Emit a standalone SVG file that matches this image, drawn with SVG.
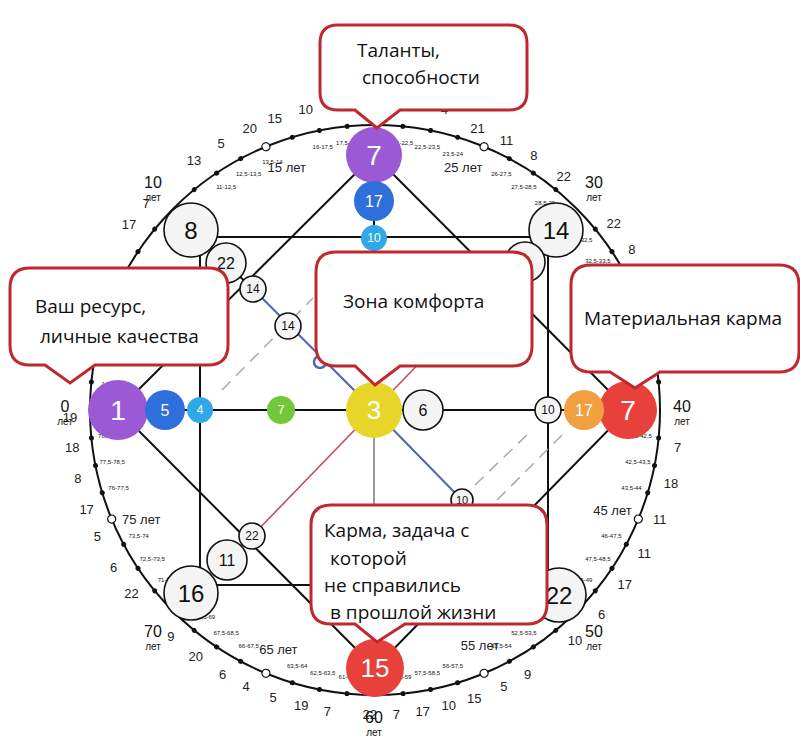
<svg xmlns="http://www.w3.org/2000/svg" width="800" height="746" viewBox="0 0 800 746">
<style>
text{font-family:"Liberation Sans",Arial,sans-serif;fill:#111}
.n{text-anchor:middle;dominant-baseline:central}
.w{fill:#fff}
.wn{fill:#f4f4f4;stroke:#111;stroke-width:1.6}
.cl{fill:#fff;stroke:#c0282f;stroke-width:3}
.ct{font-family:"Open Sans","Noto Sans",sans-serif;font-size:19px}
.r{font-size:6px;text-anchor:middle;dominant-baseline:central}
.o{font-size:13px;text-anchor:middle;dominant-baseline:central;fill:#222}
.ln{stroke:#111;stroke-width:2;fill:none}
</style>
<defs>
<circle id="d" r="2.5" fill="#111"/>
<circle id="h" r="4" fill="#fff" stroke="#111" stroke-width="1.3"/>
</defs>
<g id="ring">
<circle cx="375" cy="410" r="285" fill="none" stroke="#111" stroke-width="2"/>
<g transform="translate(375 410)">
<use href="#d" transform="rotate(5.625) translate(-285 0)"/><use href="#d" transform="rotate(11.25) translate(-285 0)"/><use href="#d" transform="rotate(16.875) translate(-285 0)"/><use href="#h" transform="rotate(22.5) translate(-285 0)"/><use href="#d" transform="rotate(28.125) translate(-285 0)"/><use href="#d" transform="rotate(33.75) translate(-285 0)"/><use href="#d" transform="rotate(39.375) translate(-285 0)"/>
<use href="#d" transform="rotate(50.625) translate(-285 0)"/><use href="#d" transform="rotate(56.25) translate(-285 0)"/><use href="#d" transform="rotate(61.875) translate(-285 0)"/><use href="#h" transform="rotate(67.5) translate(-285 0)"/><use href="#d" transform="rotate(73.125) translate(-285 0)"/><use href="#d" transform="rotate(78.75) translate(-285 0)"/><use href="#d" transform="rotate(84.375) translate(-285 0)"/>
<use href="#d" transform="rotate(95.625) translate(-285 0)"/><use href="#d" transform="rotate(101.25) translate(-285 0)"/><use href="#d" transform="rotate(106.875) translate(-285 0)"/><use href="#h" transform="rotate(112.5) translate(-285 0)"/><use href="#d" transform="rotate(118.125) translate(-285 0)"/><use href="#d" transform="rotate(123.75) translate(-285 0)"/><use href="#d" transform="rotate(129.375) translate(-285 0)"/>
<use href="#d" transform="rotate(140.625) translate(-285 0)"/><use href="#d" transform="rotate(146.25) translate(-285 0)"/><use href="#d" transform="rotate(151.875) translate(-285 0)"/><use href="#h" transform="rotate(157.5) translate(-285 0)"/><use href="#d" transform="rotate(163.125) translate(-285 0)"/><use href="#d" transform="rotate(168.75) translate(-285 0)"/><use href="#d" transform="rotate(174.375) translate(-285 0)"/>
<use href="#d" transform="rotate(185.625) translate(-285 0)"/><use href="#d" transform="rotate(191.25) translate(-285 0)"/><use href="#d" transform="rotate(196.875) translate(-285 0)"/><use href="#h" transform="rotate(202.5) translate(-285 0)"/><use href="#d" transform="rotate(208.125) translate(-285 0)"/><use href="#d" transform="rotate(213.75) translate(-285 0)"/><use href="#d" transform="rotate(219.375) translate(-285 0)"/>
<use href="#d" transform="rotate(230.625) translate(-285 0)"/><use href="#d" transform="rotate(236.25) translate(-285 0)"/><use href="#d" transform="rotate(241.875) translate(-285 0)"/><use href="#h" transform="rotate(247.5) translate(-285 0)"/><use href="#d" transform="rotate(253.125) translate(-285 0)"/><use href="#d" transform="rotate(258.75) translate(-285 0)"/><use href="#d" transform="rotate(264.375) translate(-285 0)"/>
<use href="#d" transform="rotate(275.625) translate(-285 0)"/><use href="#d" transform="rotate(281.25) translate(-285 0)"/><use href="#d" transform="rotate(286.875) translate(-285 0)"/><use href="#h" transform="rotate(292.5) translate(-285 0)"/><use href="#d" transform="rotate(298.125) translate(-285 0)"/><use href="#d" transform="rotate(303.75) translate(-285 0)"/><use href="#d" transform="rotate(309.375) translate(-285 0)"/>
<use href="#d" transform="rotate(320.625) translate(-285 0)"/><use href="#d" transform="rotate(326.25) translate(-285 0)"/><use href="#d" transform="rotate(331.875) translate(-285 0)"/><use href="#h" transform="rotate(337.5) translate(-285 0)"/><use href="#d" transform="rotate(343.125) translate(-285 0)"/><use href="#d" transform="rotate(348.75) translate(-285 0)"/><use href="#d" transform="rotate(354.375) translate(-285 0)"/>
<!-- range labels -->
<text class="r" transform="rotate(5.625) translate(-268 0) rotate(-5.625)">1-2,5</text>
<text class="r" transform="rotate(42.1875) translate(-266 0) rotate(-42.1875)">7,5-8,5</text>
<text class="r" transform="rotate(49.2) translate(-264 0) rotate(-49.2)">8,5-9</text>
<text class="r" transform="rotate(50.625) translate(-262 0) rotate(-50.625)"> </text>
<text class="r" transform="rotate(56.25) translate(-268 0) rotate(-56.25)">11-12,5</text>
<text class="r" transform="rotate(61.875) translate(-268 0) rotate(-61.875)">12,5-13,5</text>
<text class="r" transform="rotate(67.5) translate(-268 0) rotate(-67.5)">13,5-14</text>
<text class="r" transform="rotate(78.75) translate(-268 0) rotate(-78.75)">16-17,5</text>
<text class="r" transform="rotate(84.375) translate(-268 0) rotate(-84.375)">17,5-18,5</text>
<text class="r" transform="rotate(89) translate(-268 0) rotate(-89)">18,5-19</text>
<text class="r" transform="rotate(96) translate(-268 0) rotate(-96)">21-22,5</text>
<text class="r" transform="rotate(101.25) translate(-268 0) rotate(-101.25)">22,5-23,5</text>
<text class="r" transform="rotate(106.875) translate(-268 0) rotate(-106.875)">23,5-24</text>
<text class="r" transform="rotate(118.125) translate(-268 0) rotate(-118.125)">26-27,5</text>
<text class="r" transform="rotate(123.75) translate(-268 0) rotate(-123.75)">27,5-28,5</text>
<text class="r" transform="rotate(129.375) translate(-268 0) rotate(-129.375)">28,5-29</text>
<text class="r" transform="rotate(140.625) translate(-268 0) rotate(-140.625)">31-32,5</text>
<text class="r" transform="rotate(146.25) translate(-268 0) rotate(-146.25)">32,5-33,5</text>
<text class="r" transform="rotate(185.625) translate(-268 0) rotate(-185.625)">41-42,5</text>
<text class="r" transform="rotate(191.25) translate(-268 0) rotate(-191.25)">42,5-43,5</text>
<text class="r" transform="rotate(196.875) translate(-268 0) rotate(-196.875)">43,5-44</text>
<text class="r" transform="rotate(208.125) translate(-268 0) rotate(-208.125)">46-47,5</text>
<text class="r" transform="rotate(213.75) translate(-268 0) rotate(-213.75)">47,5-48,5</text>
<text class="r" transform="rotate(219.375) translate(-268 0) rotate(-219.375)">48,5-49</text>
<text class="r" transform="rotate(230.625) translate(-268 0) rotate(-230.625)">51-52,5</text>
<text class="r" transform="rotate(236.25) translate(-268 0) rotate(-236.25)">52,5-53,5</text>
<text class="r" transform="rotate(241.875) translate(-268 0) rotate(-241.875)">53,5-54</text>
<text class="r" transform="rotate(253.125) translate(-268 0) rotate(-253.125)">56-57,5</text>
<text class="r" transform="rotate(258.75) translate(-268 0) rotate(-258.75)">57,5-58,5</text>
<text class="r" transform="rotate(264.375) translate(-268 0) rotate(-264.375)">58,5-59</text>
<text class="r" transform="rotate(275.625) translate(-268 0) rotate(-275.625)">61-62,5</text>
<text class="r" transform="rotate(281.25) translate(-268 0) rotate(-281.25)">62,5-63,5</text>
<text class="r" transform="rotate(286.875) translate(-268 0) rotate(-286.875)">63,5-64</text>
<text class="r" transform="rotate(298.125) translate(-268 0) rotate(-298.125)">66-67,5</text>
<text class="r" transform="rotate(303.75) translate(-268 0) rotate(-303.75)">67,5-68,5</text>
<text class="r" transform="rotate(309.375) translate(-268 0) rotate(-309.375)">68,5-69</text>
<text class="r" transform="rotate(320.625) translate(-268 0) rotate(-320.625)">71-72,5</text>
<text class="r" transform="rotate(326.25) translate(-268 0) rotate(-326.25)">72,5-73,5</text>
<text class="r" transform="rotate(331.875) translate(-268 0) rotate(-331.875)">73,5-74</text>
<text class="r" transform="rotate(343.125) translate(-268 0) rotate(-343.125)">76-77,5</text>
<text class="r" transform="rotate(348.75) translate(-268 0) rotate(-348.75)">77,5-78,5</text>
<text class="r" transform="rotate(354.375) translate(-268 0) rotate(-354.375)">78,5-79</text>
<!-- five-year labels -->
<text class="o" transform="rotate(70) translate(-258 0) rotate(-70)">15 лет</text>
<text class="o" transform="rotate(110) translate(-258 0) rotate(-110)">25 лет</text>
<text class="o" transform="rotate(203) translate(-258 0) rotate(-203)">45 лет</text>
<text class="o" transform="rotate(246) translate(-258 0) rotate(-246)">55 лет</text>
<text class="o" transform="rotate(292) translate(-258 0) rotate(-292)">65 лет</text>
<text class="o" transform="rotate(335) translate(-258 0) rotate(-335)">75 лет</text>
<!-- outer numbers -->
<text class="o" transform="rotate(37) translate(-308 0) rotate(-37)">17</text>
<text class="o" transform="rotate(42) translate(-308 0) rotate(-42)">7</text>
<text class="o" transform="rotate(54) translate(-308 0) rotate(-54)">13</text>
<text class="o" transform="rotate(60) translate(-308 0) rotate(-60)">5</text>
<text class="o" transform="rotate(66) translate(-308 0) rotate(-66)">20</text>
<text class="o" transform="rotate(71) translate(-308 0) rotate(-71)">15</text>
<text class="o" transform="rotate(77) translate(-308 0) rotate(-77)">10</text>
<text class="o" transform="rotate(83) translate(-308 0) rotate(-83)">22</text>
<text class="o" transform="rotate(89) translate(-308 0) rotate(-89)">11</text>
<text class="o" transform="rotate(97) translate(-308 0) rotate(-97)">18</text>
<text class="o" transform="rotate(103) translate(-308 0) rotate(-103)">4</text>
<text class="o" transform="rotate(110) translate(-300 0) rotate(-110)">21</text>
<text class="o" transform="rotate(116) translate(-300 0) rotate(-116)">11</text>
<text class="o" transform="rotate(122) translate(-300 0) rotate(-122)">8</text>
<text class="o" transform="rotate(129) translate(-300 0) rotate(-129)">22</text>
<text class="o" transform="rotate(142) translate(-303 0) rotate(-142)">22</text>
<text class="o" transform="rotate(148) translate(-303 0) rotate(-148)">8</text>
<text class="o" transform="rotate(187) translate(-305 0) rotate(-187)">7</text>
<text class="o" transform="rotate(194) translate(-305 0) rotate(-194)">18</text>
<text class="o" transform="rotate(201) translate(-305 0) rotate(-201)">11</text>
<text class="o" transform="rotate(208) translate(-305 0) rotate(-208)">11</text>
<text class="o" transform="rotate(215) translate(-305 0) rotate(-215)">17</text>
<text class="o" transform="rotate(222) translate(-305 0) rotate(-222)">6</text>
<text class="o" transform="rotate(229) translate(-305 0) rotate(-229)">10</text>
<text class="o" transform="rotate(240) translate(-305 0) rotate(-240)">9</text>
<text class="o" transform="rotate(245) translate(-305 0) rotate(-245)">5</text>
<text class="o" transform="rotate(251) translate(-305 0) rotate(-251)">15</text>
<text class="o" transform="rotate(256) translate(-305 0) rotate(-256)">10</text>
<text class="o" transform="rotate(261) translate(-305 0) rotate(-261)">17</text>
<text class="o" transform="rotate(266) translate(-305 0) rotate(-266)">7</text>
<text class="o" transform="rotate(271) translate(-305 0) rotate(-271)">22</text>
<text class="o" transform="rotate(279) translate(-305 0) rotate(-279)">7</text>
<text class="o" transform="rotate(284) translate(-305 0) rotate(-284)">19</text>
<text class="o" transform="rotate(289.5) translate(-305 0) rotate(-289.5)">5</text>
<text class="o" transform="rotate(295) translate(-305 0) rotate(-295)">4</text>
<text class="o" transform="rotate(300) translate(-305 0) rotate(-300)">6</text>
<text class="o" transform="rotate(306) translate(-305 0) rotate(-306)">20</text>
<text class="o" transform="rotate(312) translate(-305 0) rotate(-312)">9</text>
<text class="o" transform="rotate(323) translate(-305 0) rotate(-323)">22</text>
<text class="o" transform="rotate(329) translate(-305 0) rotate(-329)">6</text>
<text class="o" transform="rotate(335.5) translate(-305 0) rotate(-335.5)">5</text>
<text class="o" transform="rotate(341) translate(-305 0) rotate(-341)">17</text>
<text class="o" transform="rotate(347) translate(-305 0) rotate(-347)">8</text>
<text class="o" transform="rotate(353) translate(-305 0) rotate(-353)">18</text>
<text class="o" transform="rotate(358.5) translate(-305 0) rotate(-358.5)">19</text>
</g>
<g style="text-anchor:middle">
<text x="65" y="412" font-size="16">0</text><text x="65" y="425" font-size="10">лет</text>
<text x="153" y="188" font-size="16">10</text><text x="153" y="201" font-size="10">лет</text>
<text x="594" y="188" font-size="16">30</text><text x="594" y="201" font-size="10">лет</text>
<text x="682" y="412" font-size="16">40</text><text x="682" y="425" font-size="10">лет</text>
<text x="594" y="637" font-size="16">50</text><text x="594" y="650" font-size="10">лет</text>
<text x="374" y="723" font-size="16">60</text><text x="374" y="736" font-size="10">лет</text>
<text x="153" y="637" font-size="16">70</text><text x="153" y="650" font-size="10">лет</text>
</g>
</g>
<g id="connectors">
<path class="ln" d="M118 410 L374 155 L628 410 L375 668 Z"/>
<path class="ln" d="M191 237 H556 M200 230 V593 M191 585 H559 M548 230 V595"/>
<path class="ln" stroke-width="1.5" d="M118 410 H628 M374 155 V410"/>
<path d="M374 410 V520" stroke="#777" stroke-width="1.5"/>
<path d="M191 230 L253 289" stroke="#111" stroke-width="2"/>
<path d="M253 289 L374 410 L462 500" stroke="#5566b0" stroke-width="2"/>
<path d="M252 536 L374 410 L430 352" stroke="#c05060" stroke-width="1.6"/>
<path d="M222 390 L313 298 M475 485 L530 432 M497 500 L565 432" stroke="#aaa" stroke-width="1.5" stroke-dasharray="12 8"/>
<circle cx="320" cy="362" r="6" fill="#fff" stroke="#5566b0" stroke-width="2.5"/>
</g>
<g id="n-1"><circle cx="118" cy="410" r="30" fill="#9b59d6"/><text class="n w" x="118" y="410" font-size="28">1</text></g>
<g id="n-7top"><circle cx="374" cy="155" r="28" fill="#9b59d6"/><text class="n w" x="374" y="155" font-size="28">7</text></g>
<g id="n-7right"><circle cx="628" cy="410" r="29" fill="#e8403a"/><text class="n w" x="628" y="410" font-size="28">7</text></g>
<g id="n-15"><circle cx="375" cy="668" r="29" fill="#e8403a"/><text class="n w" x="375" y="668" font-size="26">15</text></g>
<g id="n-8"><circle cx="191" cy="230" r="27" class="wn"/><text class="n" x="191" y="230" font-size="24">8</text></g>
<g id="n-14c"><circle cx="556" cy="230" r="27" class="wn"/><text class="n" x="556" y="230" font-size="24">14</text></g>
<g id="n-16"><circle cx="191" cy="593" r="27" class="wn"/><text class="n" x="191" y="593" font-size="24">16</text></g>
<g id="n-22c"><circle cx="559" cy="595" r="27" class="wn"/><text class="n" x="559" y="595" font-size="24">22</text></g>
<g id="n-22a"><circle cx="226" cy="263" r="20" class="wn"/><text class="n" x="226" y="263" font-size="16">22</text></g>
<g id="n-14a"><circle cx="253" cy="289" r="13" class="wn"/><text class="n" x="253" y="289" font-size="12">14</text></g>
<g id="n-14b"><circle cx="288" cy="326" r="13" class="wn"/><text class="n" x="288" y="326" font-size="12">14</text></g>
<g id="n-tr"><circle cx="525" cy="262" r="20" class="wn"/></g>
<g id="n-17top"><circle cx="374" cy="201" r="20" fill="#2f6fdc"/><text class="n w" x="374" y="201" font-size="16">17</text></g>
<g id="n-10top"><circle cx="374" cy="238" r="13" fill="#30a8e8"/><text class="n w" x="374" y="238" font-size="12">10</text></g>
<g id="n-5"><circle cx="165" cy="410" r="20" fill="#2f6fdc"/><text class="n w" x="165" y="410" font-size="16">5</text></g>
<g id="n-4"><circle cx="200" cy="410" r="13" fill="#30a8e8"/><text class="n w" x="200" y="410" font-size="12">4</text></g>
<g id="n-7g"><circle cx="281" cy="410" r="14" fill="#72c83a"/><text class="n w" x="281" y="410" font-size="12">7</text></g>
<g id="n-3"><circle cx="374" cy="410" r="28" fill="#e8d52a"/><text class="n w" x="374" y="410" font-size="26">3</text></g>
<g id="n-6"><circle cx="423" cy="410" r="20" class="wn"/><text class="n" x="423" y="410" font-size="16">6</text></g>
<g id="n-10r"><circle cx="548" cy="410" r="13" class="wn"/><text class="n" x="548" y="410" font-size="12">10</text></g>
<g id="n-17r"><circle cx="584" cy="410" r="20" fill="#f0a040"/><text class="n w" x="584" y="410" font-size="16">17</text></g>
<g id="n-10b"><circle cx="462" cy="500" r="11" class="wn"/><text class="n" x="462" y="500" font-size="11">10</text></g>
<g id="n-22b"><circle cx="252" cy="536" r="13" class="wn"/><text class="n" x="252" y="536" font-size="12">22</text></g>
<g id="n-11"><circle cx="227" cy="560" r="20" class="wn"/><text class="n" x="227" y="560" font-size="16">11</text></g>
<g id="callout-talents"><path class="cl" d="M338 25 H509 Q527 25 527 43 V92 Q527 110 509 110 H400 L377 128 L355 110 H338 Q320 110 320 92 V43 Q320 25 338 25 Z"/><text class="ct" x="357" y="57">Таланты,</text><text class="ct" x="362" y="84">способности</text></g>
<g id="callout-resource"><path class="cl" d="M30 268 H208 Q228 268 228 288 V345 Q228 365 208 365 H95 L70 383 L45 365 H30 Q10 365 10 345 V288 Q10 268 30 268 Z"/><text class="ct" x="35" y="313">Ваш ресурс,</text><text class="ct" x="40" y="343">личные качества</text></g>
<g id="callout-comfort"><path class="cl" d="M336 252 H512 Q532 252 532 272 V346 Q532 366 512 366 H400 L375 385 L355 366 H336 Q316 366 316 346 V272 Q316 252 336 252 Z"/><text class="ct" x="343" y="308">Зона комфорта</text></g>
<g id="callout-material"><path class="cl" d="M591 265 H779 Q799 265 799 285 V352 Q799 372 779 372 H660 L635 388 L610 372 H591 Q571 372 571 352 V285 Q571 265 591 265 Z"/><text class="ct" x="584" y="325">Материальная карма</text></g>
<g id="callout-karma"><path class="cl" d="M331 505 H527 Q547 505 547 525 V604 Q547 624 527 624 H405 L377 642 L355 624 H331 Q311 624 311 604 V525 Q311 505 331 505 Z"/><text class="ct" x="324" y="537">Карма, задача с</text><text class="ct" x="330" y="565">которой</text><text class="ct" x="324" y="592">не справились</text><text class="ct" x="330" y="619">в прошлой жизни</text></g>
</svg>
